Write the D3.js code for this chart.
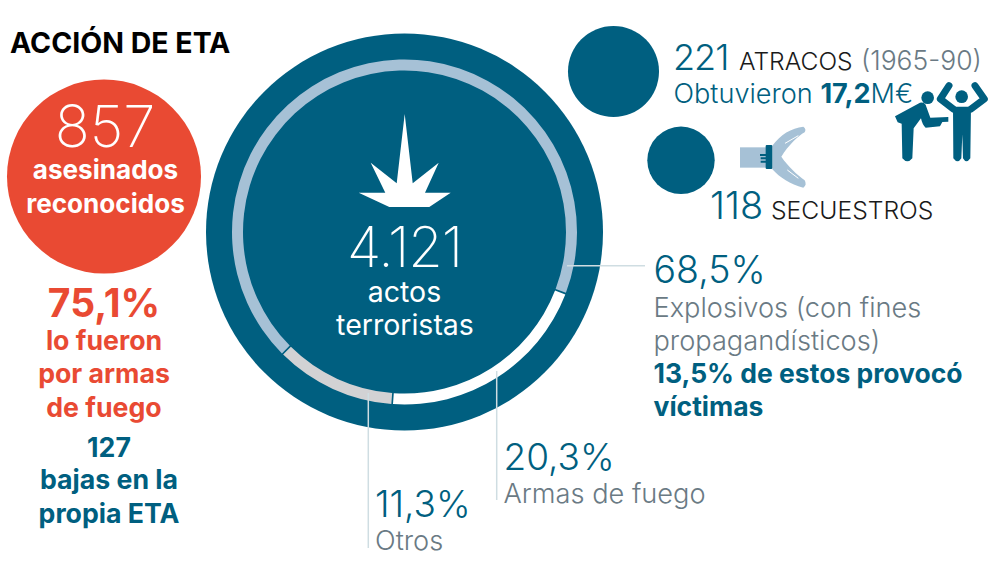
<!DOCTYPE html>
<html>
<head>
<meta charset="utf-8">
<script src="https://cdn.jsdelivr.net/npm/d3@7"></script>
<style>
  html, body { margin: 0; padding: 0; background: #fff; }
  svg { display: block; }
  text { font-family: Inter, "Noto Sans", sans-serif; }
</style>
</head>
<body>
<svg id="chart" width="1000" height="567"></svg>
<script>
// datos del grafico
let ring_names = ["Explosivos", "Armas de fuego", "Otros"];
let ring_values = [68.5, 20.3, 11.3];
let ring_labels = ["68,5%", "20,3%", "11,3%"];
let bubble_names = ["secuestros", "atracos", "asesinados", "actos"];
let bubble_values = [118, 221, 857, 4121];

const TEAL = "#005f80", RED = "#e94a33", LIGHT = "#a6c1d6", GREY = "#d2d2d4",
      TXT_GREY = "#6a7a84", LINE = "#cfdde2", INK = "#1a1a1a";

let svg = d3.select("#chart");

// circulos: escala sqrt por tramos sobre los valores
let r = d3.scaleSqrt().domain(bubble_values).range([33.7, 45.5, 97, 198.5]);
let bubble_pos = { secuestros: [681, 160.3], atracos: [613.5, 71.5], asesinados: [104, 176.5], actos: [404.5, 232] };

svg.selectAll("circle.bubble")
    .data(bubble_names)
    .join("circle")
    .attr("class", "bubble")
    .attr("cx", d => bubble_pos[d][0])
    .attr("cy", d => bubble_pos[d][1])
    .attr("r", (d, i) => r(bubble_values[i]))
    .attr("fill", d => d === "asesinados" ? RED : TEAL);

// anillo de porcentajes
let start = 225 * Math.PI / 180;
let pie = d3.pie().sort(null).startAngle(start).endAngle(start + 2 * Math.PI).padAngle(0.007);
let arc = d3.arc().innerRadius(161.5).outerRadius(172.5);
let ring_colors = d3.scaleOrdinal().domain(ring_names).range([LIGHT, "#ffffff", GREY]);

svg.append("g")
    .attr("transform", "translate(404.5,232)")
    .selectAll("path")
    .data(pie(ring_values))
    .join("path")
    .attr("d", arc)
    .attr("fill", (d, i) => ring_colors(ring_names[i]));

// lineas guia
let leaders = [[567, 265.7, 645, 265.7], [496.7, 371, 496.7, 500], [368.3, 393, 368.3, 548]];
svg.selectAll("line.leader")
    .data(leaders)
    .join("line")
    .attr("class", "leader")
    .attr("x1", d => d[0]).attr("y1", d => d[1])
    .attr("x2", d => d[2]).attr("y2", d => d[3])
    .attr("stroke", LINE).attr("stroke-width", 1.5);

// explosion
svg.append("path")
    .attr("d", "M404.7,114L412.7,183.3L438.7,162.7L425,192.7L450.7,192.7L429.3,207L389.3,207L358.7,192.7L385.3,192.7L370.7,162.7L396.7,183.3Z")
    .attr("fill", "#fff");

function label(x, y, str, size, weight, color, anchor, spacing) {
    return svg.append("text")
        .attr("x", x).attr("y", y)
        .attr("font-size", size).attr("font-weight", weight)
        .attr("fill", color).attr("text-anchor", anchor || "start")
        .attr("letter-spacing", spacing || 0)
        .text(str);
}

label(10, 53, "ACCIÓN DE ETA", 28.5, 700, "#000");

// columna izquierda
label(105, 146.7, bubble_values[2], 58, 160, "#fff", "middle");
label(105.5, 179, "asesinados", 26.1, 700, "#fff", "middle");
label(105.5, 212.5, "reconocidos", 26.1, 700, "#fff", "middle");
label(104, 316.7, "75,1%", 39, 700, RED, "middle");
label(104, 350, "lo fueron", 26.7, 700, RED, "middle");
label(104, 383, "por armas", 26.7, 700, RED, "middle");
label(104, 416.7, "de fuego", 26.7, 700, RED, "middle");
label(109, 456.7, "127", 26.7, 700, TEAL, "middle");
label(109, 489, "bajas en la", 26.7, 700, TEAL, "middle");
label(109, 522.7, "propia ETA", 26.7, 700, TEAL, "middle");

// centro
label(404.5, 266.7, "4.121", 56, 160, "#fff", "middle", -1);
label(404.5, 301.7, "actos", 28.5, 400, "#fff", "middle");
label(405, 335, "terroristas", 28.5, 400, "#fff", "middle");

// arriba derecha
label(673, 70, bubble_values[1], 36, 300, TEAL, "start", -1);
label(739, 70, "ATRACOS", 24.6, 340, INK);
label(861, 70, "(1965-90)", 26.5, 300, TXT_GREY);
let ob = label(673.5, 102.7, "", 27.1, 300, TEAL);
ob.append("tspan").text("Obtuvieron ");
ob.append("tspan").attr("font-weight", 700).text("17,2");
ob.append("tspan").text("M€");
label(710, 219, bubble_values[0], 38, 300, TEAL);
label(771, 219, "SECUESTROS", 24.7, 340, INK);

// etiquetas del anillo
label(653.5, 282.7, ring_labels[0], 37.5, 300, TEAL);
label(653.5, 316.7, "Explosivos (con fines", 27.2, 300, TXT_GREY);
label(653.5, 350, "propagandísticos)", 27.2, 300, TXT_GREY);
label(653.5, 383.3, "13,5% de estos provocó", 26.5, 700, TEAL);
label(653.5, 416, "víctimas", 26.5, 700, TEAL);
label(503.5, 470, ring_labels[1], 37, 300, TEAL);
label(503.5, 503, ring_names[1], 27.2, 300, TXT_GREY);
label(375, 516.7, ring_labels[2], 37, 300, TEAL);
label(375, 550, ring_names[2], 27.2, 300, TXT_GREY);

// icono atraco (dibujado a escala 3x)
let rob = svg.append("g").attr("transform", "translate(885,75) scale(0.3333)").attr("fill", TEAL);
rob.append("circle").attr("cx", 128).attr("cy", 68).attr("r", 19);
rob.append("circle").attr("cx", 230).attr("cy", 65).attr("r", 19);
rob.append("path").attr("d", "M30,124L105,83Q120,80 124,95L136,128L190,126L190,140L172,141L165,154L122,158Q112,150 108,130L86,160L82,250Q67,268 52,250L50,146L38,142Z");
rob.append("path").attr("d", "M192,32L166,72L205,102M270,32L298,72L258,102").attr("fill", "none")
    .attr("stroke", TEAL).attr("stroke-width", 21).attr("stroke-linecap", "round").attr("stroke-linejoin", "round");
rob.append("path").attr("d", "M204,95H258L256,250Q244,268 234,250L232,178L229,250Q218,268 205,250Z");

// icono linterna / manos (escala 3x)
let hand = svg.append("g").attr("transform", "translate(730,115) scale(0.3333)");
hand.append("rect").attr("x", 30).attr("y", 97).attr("width", 80).attr("height", 61).attr("fill", LIGHT);
hand.append("path").attr("d", "M127,92C150,60 185,38 220,35Q230,42 224,52C205,62 175,92 154,125C175,155 200,178 224,196Q232,210 220,218C180,208 150,188 127,163Z").attr("fill", LIGHT);
hand.append("path").attr("d", "M165,85L205,62M172,165L205,190").attr("stroke", "#fff").attr("stroke-width", 3).attr("fill", "none");
hand.append("rect").attr("x", 107).attr("y", 90).attr("width", 20).attr("height", 72).attr("rx", 3).attr("fill", TEAL);
hand.append("path").attr("d", "M90,120H108M92,130H108M92,140H108").attr("stroke", TEAL).attr("stroke-width", 6);
</script>
</body>
</html>
